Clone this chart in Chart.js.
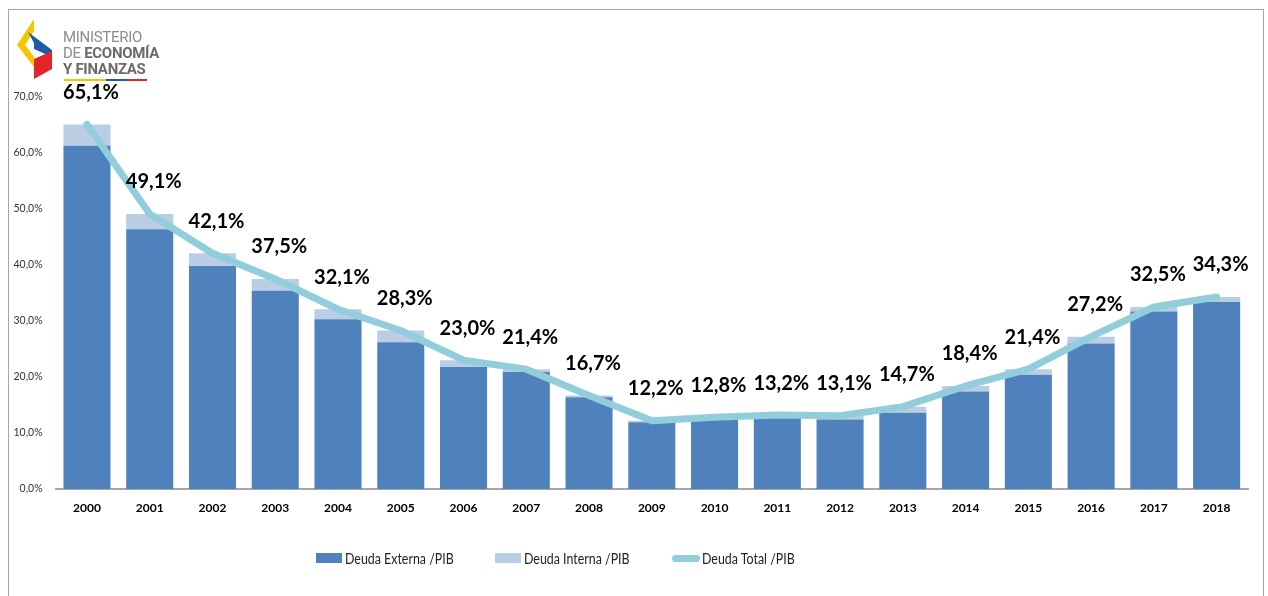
<!DOCTYPE html>
<html>
<head>
<meta charset="utf-8">
<script src="https://cdn.jsdelivr.net/npm/chart.js@4"></script>
<style>
  html, body { margin: 0; padding: 0; background: #fff; }
  body { width: 1268px; height: 596px; position: relative; overflow: hidden; font-family: Lato, "Open Sans", sans-serif; }
  #frame { position: absolute; left: 8px; top: 9px; width: 1256px; height: 600px; border: 1px solid #a6a6a6; box-sizing: border-box; }
  #chart-box { position: absolute; left: 0; top: 0; width: 1268px; height: 596px; }
  .logo { position: absolute; left: 16px; top: 19px; }
  .logo-text { position: absolute; left: 63px; top: 29px; font-family: Roboto, Lato, sans-serif; color: #8c8c8c; line-height: 16px; font-size: 15px; letter-spacing: -0.3px; }
  .logo-text b { color: #6b6b6b; font-weight: 700; }
  .logo-bar { position: absolute; left: 64px; top: 79px; height: 2px; width: 83px; background: linear-gradient(to right, #f6c400 0 50%, #1f5aa6 50% 75%, #e0262b 75% 100%); }
  .legend { position: absolute; top: 548px; left: 0; width: 1268px; height: 20px; font-family: Lato, sans-serif; font-size: 15.5px; color: #222; }
  .legend .item { position: absolute; top: 0; display: flex; align-items: center; height: 20px; white-space: nowrap; }
  .legend .swatch { width: 26px; height: 10px; margin-right: 3px; }
  .legend .line { width: 28px; height: 7px; border-radius: 4px; margin-right: 2px; }
  .legend .txt { display: inline-block; transform: scaleX(0.8); transform-origin: left center; }
</style>
</head>
<body>
<div id="frame"></div>
<div id="chart-box"><canvas id="debt-chart" width="1268" height="596"></canvas></div>

<svg class="logo" width="40" height="62" viewBox="0 0 40 62">
  <polygon points="18,0 18,12 9,26 18,38 18,48 1,26" fill="#f6c400"/>
  <polygon points="12,13 36,31 36,38 18,30 18,24" fill="#1f5aa6" />
  <polygon points="18,40 36,32 36,50 18,60" fill="#e0262b"/>
</svg>
<div class="logo-text">MINISTERIO<br>DE <b>ECONOMÍA</b><br><b>Y FINANZAS</b></div>
<div class="logo-bar"></div>

<div class="legend">
  <div class="item" style="left:316px"><span class="swatch" style="background:#4f81bd"></span><span class="txt">Deuda Externa /PIB</span></div>
  <div class="item" style="left:495px"><span class="swatch" style="background:#b9cde5"></span><span class="txt">Deuda Interna /PIB</span></div>
  <div class="item" style="left:672px"><span class="line" style="background:#92cddc"></span><span class="txt">Deuda Total /PIB</span></div>
</div>

<script>
// Deuda pública / PIB, Ecuador 2000-2018 (valores en %)
const years = ['2000', '2001', '2002', '2003', '2004', '2005', '2006', '2007', '2008', '2009',
               '2010', '2011', '2012', '2013', '2014', '2015', '2016', '2017', '2018'];
const deudaExterna = [61.3, 46.4, 39.8, 35.4, 30.3, 26.2, 21.8, 20.9, 16.4, 11.9,
                      12.5, 12.7, 12.4, 13.6, 17.4, 20.4, 26.0, 31.7, 33.4];
const deudaInterna = [3.8, 2.7, 2.3, 2.1, 1.8, 2.1, 1.2, 0.5, 0.3, 0.3,
                      0.3, 0.5, 0.7, 1.1, 1.0, 1.0, 1.2, 0.8, 0.9];
const deudaTotal = [65.1, 49.1, 42.1, 37.5, 32.1, 28.3, 23.0, 21.4, 16.7, 12.2,
                    12.8, 13.2, 13.1, 14.7, 18.4, 21.4, 27.2, 32.5, 34.3];
const yTicks = [0, 10, 20, 30, 40, 50, 60, 70];

function pct(v) {
    return v.toFixed(1).replace('.', ',') + '%';
}

// Labels above the total line
const totalLabels = {
    id: 'totalLabels',
    afterDatasetsDraw(chart) {
        const ctx = chart.ctx;
        const meta = chart.getDatasetMeta(2);
        ctx.save();
        ctx.font = 'bold 20px Lato, sans-serif';
        ctx.fillStyle = '#000';
        ctx.textAlign = 'center';
        ctx.textBaseline = 'middle';
        meta.data.forEach((pt, i) => {
            ctx.fillText(pct(deudaTotal[i]), pt.x + 4, pt.y - 32);
        });
        ctx.restore();
    }
};

const ctx = document.getElementById('debt-chart').getContext('2d');
new Chart(ctx, {
    type: 'bar',
    data: {
        labels: years,
        datasets: [
            {
                label: 'Deuda Externa /PIB',
                data: deudaExterna,
                backgroundColor: '#4f81bd',
                stack: 'deuda',
                order: 1
            },
            {
                label: 'Deuda Interna /PIB',
                data: deudaInterna,
                backgroundColor: '#b9cde5',
                stack: 'deuda',
                order: 2
            },
            {
                label: 'Deuda Total /PIB',
                type: 'line',
                data: deudaTotal,
                borderColor: '#92cddc',
                backgroundColor: '#92cddc',
                borderWidth: 7,
                pointRadius: 0,
                tension: 0,
                borderJoinStyle: 'round',
                borderCapStyle: 'round',
                stack: 'total',
                order: 0
            }
        ]
    },
    options: {
        responsive: false,
        animation: false,
        layout: { padding: { top: 97, left: 10, right: 20, bottom: 77 } },
        datasets: { bar: { categoryPercentage: 1, barPercentage: 0.75 } },
        plugins: { legend: { display: false }, tooltip: { enabled: false } },
        scales: {
            x: {
                stacked: true,
                grid: { display: false, drawTicks: false },
                border: { color: '#a6a6a6', width: 2 },
                ticks: { padding: 12, color: '#000', font: { family: 'Lato', size: 12, weight: 'bold' } },
                afterFit(scale) { scale.height = 30; }
            },
            y: {
                stacked: true,
                min: 0,
                max: 70,
                grid: { display: false, drawTicks: false },
                border: { display: false },
                afterBuildTicks(scale) { scale.ticks = yTicks.map(v => ({ value: v })); },
                ticks: {
                    padding: 13,
                    color: '#333',
                    font: { family: 'Lato', size: 10.5 },
                    callback: v => pct(v)
                },
                afterFit(scale) { scale.width = 45.6; }
            }
        }
    },
    plugins: [totalLabels]
});
</script>
</body>
</html>
